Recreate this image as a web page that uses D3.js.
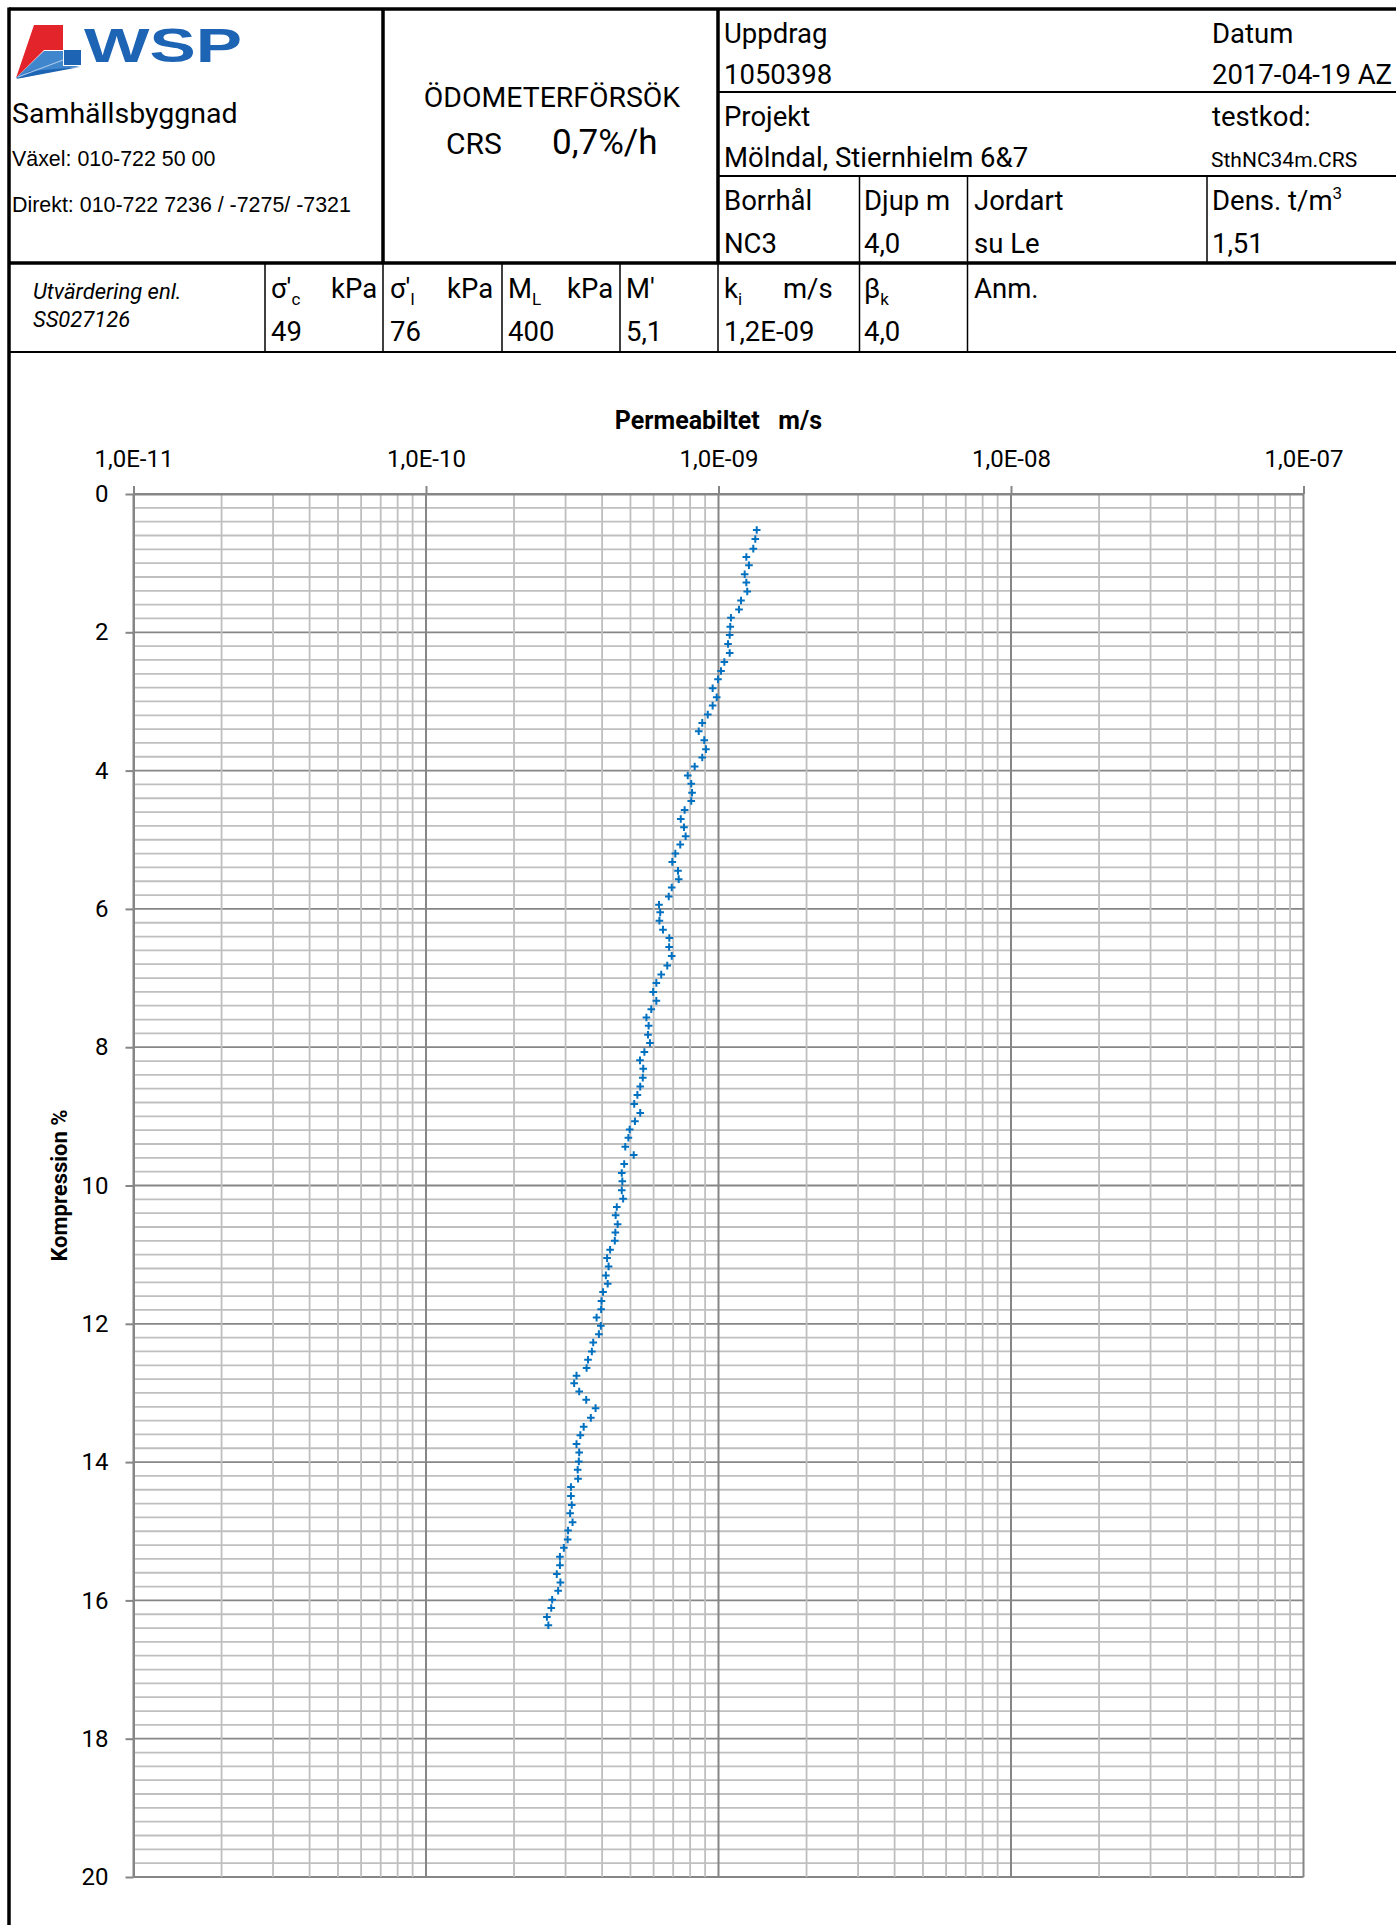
<!DOCTYPE html>
<html>
<head>
<meta charset="utf-8">
<script src="https://cdn.jsdelivr.net/npm/d3@7"></script>
<style>
  body { margin: 0; background: #fff; }
  svg { display: block; }
  text { font-family: Roboto, "Open Sans", sans-serif; fill: #000; white-space: pre; }
</style>
</head>
<body>
<div id="chart"></div>
<script>
// CRS oedometer test, permeability vs. compression
const compression = [
  0.52,0.65,0.79,0.91,1.03,1.16,1.28,1.41,1.54,1.67,
  1.79,1.92,2.04,2.17,2.30,2.43,2.56,2.68,2.81,2.94,
  3.06,3.19,3.31,3.43,3.56,3.69,3.81,3.94,4.07,4.19,
  4.32,4.44,4.57,4.70,4.82,4.95,5.07,5.20,5.32,5.45,
  5.57,5.69,5.82,5.94,6.05,6.17,6.30,6.42,6.55,6.68,
  6.82,6.95,7.07,7.20,7.33,7.45,7.57,7.69,7.82,7.94,
  8.07,8.19,8.31,8.44,8.57,8.69,8.82,8.95,9.07,9.19,
  9.31,9.44,9.56,9.69,9.82,9.94,10.07,10.19,10.31,10.43,
  10.56,10.68,10.80,10.93,11.05,11.17,11.30,11.42,11.54,11.67,
  11.79,11.91,12.03,12.15,12.27,12.40,12.52,12.64,12.75,12.86,
  12.98,13.10,13.22,13.36,13.49,13.61,13.74,13.86,13.99,14.11,
  14.24,14.36,14.49,14.62,14.74,14.87,14.99,15.12,15.24,15.37,
  15.49,15.62,15.74,15.86,15.99,16.11,16.24,16.36
];

const permeability = [
  1.351e-9,1.336e-9,1.315e-9,1.245e-9,1.271e-9,1.229e-9,1.245e-9,1.254e-9,1.194e-9,1.175e-9,
  1.103e-9,1.097e-9,1.092e-9,1.078e-9,1.092e-9,1.047e-9,1.020e-9,0.996e-9,0.955e-9,0.986e-9,
  0.955e-9,0.919e-9,0.880e-9,0.856e-9,0.894e-9,0.906e-9,0.880e-9,0.829e-9,0.785e-9,0.807e-9,
  0.812e-9,0.807e-9,0.766e-9,0.743e-9,0.762e-9,0.772e-9,0.740e-9,0.712e-9,0.695e-9,0.727e-9,
  0.731e-9,0.692e-9,0.676e-9,0.626e-9,0.632e-9,0.628e-9,0.646e-9,0.679e-9,0.678e-9,0.692e-9,
  0.668e-9,0.637e-9,0.613e-9,0.598e-9,0.613e-9,0.589e-9,0.567e-9,0.577e-9,0.574e-9,0.583e-9,
  0.558e-9,0.539e-9,0.553e-9,0.551e-9,0.540e-9,0.528e-9,0.515e-9,0.540e-9,0.518e-9,0.497e-9,
  0.492e-9,0.480e-9,0.513e-9,0.476e-9,0.467e-9,0.469e-9,0.467e-9,0.472e-9,0.449e-9,0.445e-9,
  0.452e-9,0.444e-9,0.442e-9,0.426e-9,0.416e-9,0.421e-9,0.412e-9,0.418e-9,0.403e-9,0.398e-9,
  0.397e-9,0.383e-9,0.396e-9,0.390e-9,0.373e-9,0.369e-9,0.358e-9,0.354e-9,0.327e-9,0.321e-9,
  0.334e-9,0.353e-9,0.380e-9,0.366e-9,0.346e-9,0.337e-9,0.327e-9,0.334e-9,0.333e-9,0.330e-9,
  0.331e-9,0.313e-9,0.313e-9,0.315e-9,0.311e-9,0.317e-9,0.306e-9,0.305e-9,0.296e-9,0.287e-9,
  0.287e-9,0.280e-9,0.288e-9,0.283e-9,0.270e-9,0.268e-9,0.259e-9,0.262e-9
];

const xTickValues = [1e-11, 1e-10, 1e-9, 1e-8, 1e-7];
const xTickLabels = ["1,0E-11", "1,0E-10", "1,0E-09", "1,0E-08", "1,0E-07"];
const yTickValues = [0, 2, 4, 6, 8, 10, 12, 14, 16, 18, 20];
const yTickLabels = ["0", "2", "4", "6", "8", "10", "12", "14", "16", "18", "20"];

// Test sheet header fields
const headerInfo = {
  uppdrag: "1050398", datum: "2017-04-19 AZ",
  projekt: "Mölndal, Stiernhielm 6&7", testkod: "SthNC34m.CRS",
  borrhal: "NC3", djup: "4,0", jordart: "su Le", dens: "1,51"
};
const evalValues = { sigmaC: "49", sigmaL: "76", ML: "400", Mprime: "5,1", ki: "1,2E-09", betaK: "4,0" };

const W = 1396, H = 1925;
const svg = d3.select("#chart").append("svg")
  .attr("width", W).attr("height", H)
  .attr("viewBox", `0 0 ${W} ${H}`);
svg.append("rect").attr("width", W).attr("height", H).attr("fill", "#fff");

// ---------- header frame ----------
const frame = svg.append("g").attr("stroke", "#000").attr("fill", "none");
function line(x1, y1, x2, y2, w) {
  frame.append("line").attr("x1", x1).attr("y1", y1).attr("x2", x2).attr("y2", y2).attr("stroke-width", w);
}
line(9, 9, 1396, 9, 3.5);          // top
line(9, 7.5, 9, H, 3.5);           // left
line(9, 263, 1396, 263, 3.5);      // header bottom
line(383, 9, 383, 263, 3.5);       // logo | title
line(718, 9, 718, 263, 3.5);       // title | info
line(718, 92, 1396, 92, 2);
line(718, 176, 1396, 176, 2);
line(859.5, 176, 859.5, 263, 1.5);
line(967.5, 176, 967.5, 263, 1.5);
line(1207, 176, 1207, 263, 1.5);
[265, 383, 502, 620, 718, 859.5, 967.5].forEach(x => line(x, 263, x, 352, 1.5));
line(9, 352, 1396, 352, 2);

// ---------- logo ----------
const logo = svg.append("g");
logo.append("polygon").attr("points", "34,25 63,25 63,50 44,50 16,78").attr("fill", "#e3242b");
logo.append("polygon").attr("points", "64,50 81,50 81,65 64,65").attr("fill", "#1e64b4");
logo.append("polygon").attr("points", "16,78 44,51 63,51 63,66 80,66 20,78").attr("fill", "#3f86cc");
logo.append("polygon").attr("points", "16,79 30,71 80,67").attr("fill", "#1e64b4");
logo.append("line").attr("x1", 18).attr("y1", 77).attr("x2", 63).attr("y2", 60)
  .attr("stroke", "#a9c8ea").attr("stroke-width", 1.2);
logo.append("text").attr("x", 84).attr("y", 62)
  .attr("textLength", 158).attr("lengthAdjust", "spacingAndGlyphs")
  .style("font-family", "'Liberation Sans', Arial, sans-serif")
  .style("font-weight", 700).style("font-size", "49px").style("fill", "#1e64b4")
  .text("WSP");

function txt(x, y, s, size, opts = {}) {
  const t = svg.append("text").attr("x", x).attr("y", y)
    .style("font-size", size + "px");
  if (opts.family) t.style("font-family", opts.family);
  if (opts.weight) t.style("font-weight", opts.weight);
  if (opts.italic) t.style("font-style", "italic");
  if (opts.anchor) t.attr("text-anchor", opts.anchor);
  t.text(s);
  return t;
}
const arial = "'Liberation Sans', Arial, sans-serif";
txt(12, 123, "Samhällsbyggnad", 28.5);
txt(12, 166, "Växel: 010-722 50 00", 21.4, { family: arial });
txt(12, 212, "Direkt: 010-722 7236 / -7275/ -7321", 21.4, { family: arial });

// title cell
txt(552, 107, "ÖDOMETERFÖRSÖK", 28.4, { anchor: "middle" });
txt(446, 154, "CRS", 30);
txt(552, 154, "0,7%/h", 35);

// info cells
const fs = 27.5;
txt(724, 43, "Uppdrag", fs);
txt(724, 84, headerInfo.uppdrag, fs);
txt(1212, 43, "Datum", fs);
txt(1212, 84, headerInfo.datum, fs);
txt(724, 126, "Projekt", fs);
txt(724, 167, headerInfo.projekt, fs);
txt(1212, 126, "testkod:", fs);
txt(1211, 167, headerInfo.testkod, 21);
txt(724, 210, "Borrhål", fs);
txt(724, 253, headerInfo.borrhal, fs);
txt(864, 210, "Djup m", fs);
txt(864, 253, headerInfo.djup, fs);
txt(974, 210, "Jordart", fs);
txt(974, 253, headerInfo.jordart, fs);
const dens = txt(1212, 210, "Dens. t/m", fs);
dens.append("tspan").attr("dy", -11).style("font-size", "17px").text("3");
txt(1212, 253, headerInfo.dens, fs);

// evaluation row
txt(33, 299, "Utvärdering enl.", 22, { italic: true });
txt(33, 327, "SS027126", 22, { italic: true });
function subLabel(x, y, main, sub, unit, unitX) {
  const t = txt(x, y, main, fs);
  if (sub) t.append("tspan").attr("dy", 7).style("font-size", "17px").text(sub);
  if (unit) txt(unitX, y, unit, fs);
}
subLabel(271, 298, "σ'", "c", "kPa", 331);
txt(271, 341, evalValues.sigmaC, fs);
subLabel(390, 298, "σ'", "l", "kPa", 447);
txt(390, 341, evalValues.sigmaL, fs);
subLabel(508, 298, "M", "L", "kPa", 567);
txt(508, 341, evalValues.ML, fs);
txt(626, 298, "M'", fs);
txt(626, 341, evalValues.Mprime, fs);
subLabel(724, 298, "k", "i", "m/s", 783);
txt(724, 341, evalValues.ki, fs);
subLabel(864, 298, "β", "k", null, 0);
txt(864, 341, evalValues.betaK, fs);
txt(974, 298, "Anm.", fs);

// ---------- chart ----------
const x = d3.scaleLog().domain([1e-11, 1e-7]).range([133.5, 1303.5]);
const y = d3.scaleLinear().domain([0, 20]).range([494, 1877]);

const minorColor = "#bfbfbf", majorColor = "#868686";
const grid = svg.append("g");

// horizontal grid every 0.2 %
const hLines = d3.range(0, 101).map(i => i * 0.2);
grid.selectAll("line.h").data(hLines).join("line")
  .attr("x1", x.range()[0]).attr("x2", x.range()[1])
  .attr("y1", d => y(d)).attr("y2", d => y(d))
  .attr("stroke", (d, i) => i % 10 === 0 ? majorColor : minorColor)
  .attr("stroke-width", 1.8);

// vertical log grid
const vLines = [];
for (let e = -11; e < -7; e++) for (let m = 1; m <= 9; m++) vLines.push({ v: m * Math.pow(10, e), major: m === 1 });
vLines.push({ v: 1e-7, major: true });
grid.selectAll("line.v").data(vLines).join("line")
  .attr("x1", d => x(d.v)).attr("x2", d => x(d.v))
  .attr("y1", y(0)).attr("y2", y(20))
  .attr("stroke", d => d.major ? majorColor : minorColor)
  .attr("stroke-width", d => d.major ? 2 : 1.8);

// axes
const xAxis = d3.axisTop(x).tickValues(xTickValues)
  .tickFormat((d, i) => xTickLabels[i]).tickSize(8).tickSizeOuter(0).tickPadding(19);
const gx = svg.append("g").attr("transform", `translate(0,${y(0)})`).call(xAxis);
const yAxis = d3.axisLeft(y).tickValues(yTickValues)
  .tickFormat((d, i) => yTickLabels[i]).tickSize(8).tickSizeOuter(0).tickPadding(17);
const gy = svg.append("g").attr("transform", `translate(${x(1e-11)},0)`).call(yAxis);
[gx, gy].forEach(g => {
  g.select(".domain").attr("stroke", majorColor).attr("stroke-width", 2);
  g.selectAll(".tick line").attr("stroke", majorColor).attr("stroke-width", 2);
  g.selectAll(".tick text").style("font-family", "Roboto, sans-serif").style("font-size", "24px").attr("fill", "#000");
});

// axis titles
svg.append("text").attr("x", 718.5).attr("y", 429).attr("text-anchor", "middle")
  .style("font-size", "25px").style("font-weight", 700).text("Permeabiltet   m/s");
svg.append("text").attr("transform", `translate(67,${(y(0) + y(20)) / 2}) rotate(-90)`)
  .attr("text-anchor", "middle")
  .style("font-size", "22px").style("font-weight", 700).text("Kompression %");

// data markers
const points = compression.map((c, i) => ({ c, k: permeability[i] }));
svg.append("g").selectAll("path").data(points).join("path")
  .attr("transform", d => `translate(${x(d.k)},${y(d.c)})`)
  .attr("d", "M-3.8,0H3.8M0,-3.8V3.8")
  .attr("stroke", "#0070c0").attr("stroke-width", 2).attr("fill", "none");
</script>
</body>
</html>
